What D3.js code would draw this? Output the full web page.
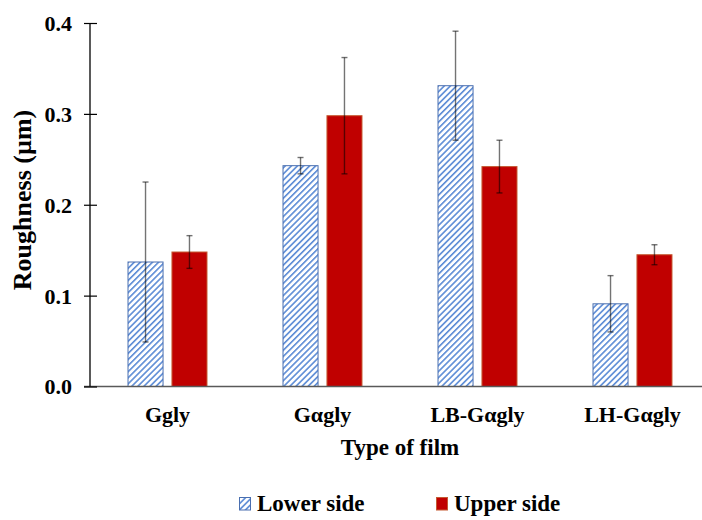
<!DOCTYPE html>
<html>
<head>
<meta charset="utf-8">
<script src="https://cdn.jsdelivr.net/npm/d3@7"></script>
<style>
  html, body { margin: 0; padding: 0; background: #fff; }
  svg { display: block; }
</style>
</head>
<body>
<svg id="chart" width="702" height="520"></svg>
<script>
// Surface roughness of the films, lower vs upper side (mean ± SD, µm)
const categories = ["Ggly", "Gαgly", "LB-Gαgly", "LH-Gαgly"];
const seriesNames = ["Lower side", "Upper side"];
const lowerValues = [0.137, 0.243, 0.331, 0.091];
const lowerErrors = [0.088, 0.009, 0.060, 0.031];
const upperValues = [0.148, 0.298, 0.242, 0.145];
const upperErrors = [0.018, 0.064, 0.029, 0.011];
const yTicks = [0, 0.1, 0.2, 0.3, 0.4];

const FONT = "Liberation Serif";

const series = [
  { name: seriesNames[0], values: lowerValues, errors: lowerErrors },
  { name: seriesNames[1], values: upperValues, errors: upperErrors }
];

const svg = d3.select("#chart");

// diagonal hatch for the lower-side bars
const defs = svg.append("defs");
const pat = defs.append("pattern")
  .attr("id", "hatch")
  .attr("patternUnits", "userSpaceOnUse")
  .attr("width", 4.3).attr("height", 4.3)
  .attr("patternTransform", "rotate(45)");
pat.append("rect").attr("width", 4.3).attr("height", 4.3).attr("fill", "#fff");
pat.append("line")
  .attr("x1", 0).attr("y1", 0).attr("x2", 0).attr("y2", 4.3)
  .attr("stroke", "#5b8bd5").attr("stroke-width", 3.2);

const fills = ["url(#hatch)", "#c00000"];
const strokes = ["#4a6fb0", "#c55a32"];

const x0 = d3.scaleBand().domain(categories).range([90, 710])
  .paddingInner(0.484).paddingOuter(0.242);
const x1 = d3.scaleBand().domain(seriesNames).range([0, x0.bandwidth()])
  .paddingInner(0.18).paddingOuter(0);
const y = d3.scaleLinear().domain([0, 0.4]).range([386.5, 23]);

// bars
const groups = svg.append("g").selectAll("g")
  .data(series).join("g");

groups.each(function (s, si) {
  d3.select(this).selectAll("rect")
    .data(categories.map((c, i) => ({ c, v: s.values[i] })))
    .join("rect")
    .attr("x", d => x0(d.c) + x1(s.name) + 0.5)
    .attr("y", d => y(d.v))
    .attr("width", x1.bandwidth() - 1)
    .attr("height", d => y(0) - y(d.v))
    .attr("fill", fills[si])
    .attr("stroke", strokes[si])
    .attr("stroke-width", 1);
});

// x axis baseline
svg.append("line")
  .attr("x1", 84).attr("x2", 710)
  .attr("y1", y(0)).attr("y2", y(0))
  .attr("stroke", "#595959").attr("stroke-width", 1.3);

// y axis with ticks crossing the axis line
const yAxis = svg.append("g")
  .attr("transform", "translate(90,0)")
  .call(d3.axisLeft(y).tickValues(yTicks).tickFormat(d3.format(".1f")).tickSize(6).tickPadding(12));
yAxis.attr("font-family", FONT).attr("font-size", 22).attr("font-weight", "bold");
yAxis.select(".domain").attr("stroke", "#000").attr("stroke-width", 1.3)
  .attr("d", `M0,${y(0.4)}V${y(0)}`);
yAxis.selectAll(".tick line").attr("x1", 7).attr("stroke", "#000").attr("stroke-width", 1.2);
yAxis.selectAll(".tick text").attr("fill", "#000").attr("dy", "0.34em");

// error bars
groups.each(function (s) {
  const g = d3.select(this).append("g")
    .attr("stroke", "#000").attr("stroke-opacity", 0.55).attr("stroke-width", 1.4);
  categories.forEach((c, i) => {
    const cx = x0(c) + x1(s.name) + x1.bandwidth() / 2;
    const hi = y(s.values[i] + s.errors[i]);
    const lo = y(s.values[i] - s.errors[i]);
    g.append("line").attr("x1", cx).attr("x2", cx).attr("y1", hi).attr("y2", lo);
    g.append("line").attr("x1", cx - 3).attr("x2", cx + 3).attr("y1", hi).attr("y2", hi);
    g.append("line").attr("x1", cx - 3).attr("x2", cx + 3).attr("y1", lo).attr("y2", lo);
  });
});

// category labels
svg.append("g").selectAll("text")
  .data(categories).join("text")
  .attr("x", d => x0(d) + x0.bandwidth() / 2)
  .attr("y", 422)
  .attr("text-anchor", "middle")
  .attr("font-family", FONT).attr("font-weight", "bold")
  .attr("font-size", 22)
  .text(d => d);

// axis titles
svg.append("text")
  .attr("x", 400).attr("y", 455)
  .attr("text-anchor", "middle")
  .attr("font-family", FONT).attr("font-weight", "bold")
  .attr("font-size", 23)
  .text("Type of film");

svg.append("text")
  .attr("transform", "translate(31,200) rotate(-90)")
  .attr("text-anchor", "middle")
  .attr("font-family", FONT).attr("font-weight", "bold")
  .attr("font-size", 26)
  .text("Roughness (µm)");

// legend
const legendX = [239, 436];
const legend = svg.append("g").selectAll("g")
  .data(series).join("g")
  .attr("transform", (d, i) => `translate(${legendX[i]},497)`);
legend.append("rect")
  .attr("x", 0.5).attr("y", 0.5)
  .attr("width", 11).attr("height", 12.5)
  .attr("fill", (d, i) => fills[i])
  .attr("stroke", (d, i) => strokes[i]);
legend.append("text")
  .attr("x", 18).attr("y", 14)
  .attr("font-family", FONT).attr("font-weight", "bold")
  .attr("font-size", 23)
  .text(d => d.name);
</script>
</body>
</html>
